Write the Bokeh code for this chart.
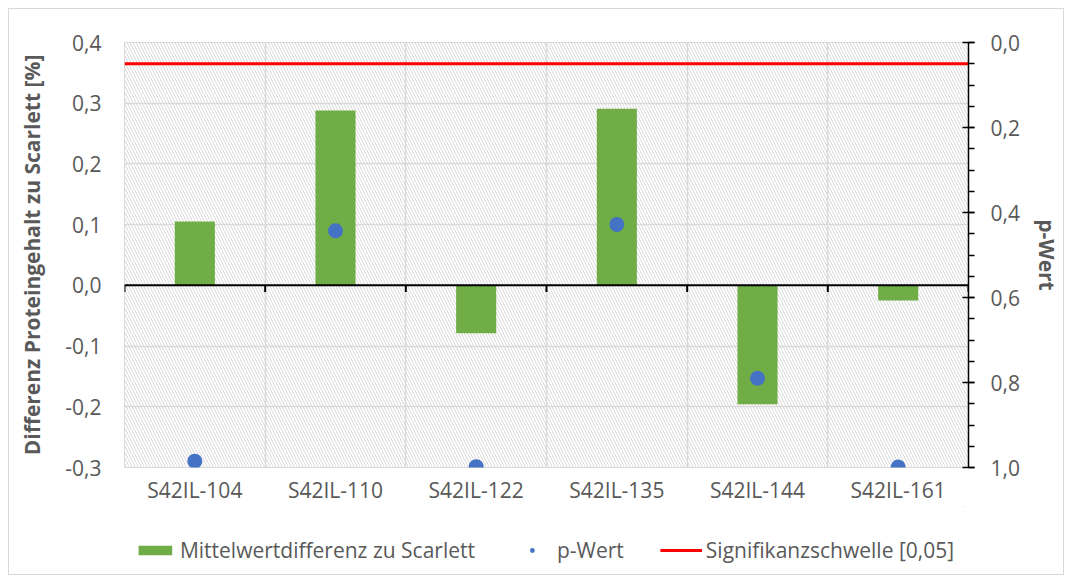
from bokeh.plotting import figure
from bokeh.layouts import column
from bokeh.models import (Range1d, LinearAxis, FixedTicker, CustomJSTickFormatter,
                          BoxAnnotation, Span, Legend, LegendItem, ColumnDataSource)
from bokeh.embed import file_html
from bokeh.resources import INLINE

# ---- data ----
categories = ["S42IL-104", "S42IL-110", "S42IL-122", "S42IL-135", "S42IL-144", "S42IL-161"]
mean_diff = [0.105, 0.288, -0.079, 0.291, -0.196, -0.025]
p_values = [0.985, 0.443, 0.998, 0.428, 0.790, 0.999]
threshold = 0.05
left_ticks = [-0.3, -0.2, -0.1, 0.0, 0.1, 0.2, 0.3, 0.4]
right_ticks = [0.0, 0.2, 0.4, 0.6, 0.8, 1.0]
right_minor = [0.0, 0.05, 0.1, 0.15, 0.2, 0.25, 0.3, 0.35, 0.4, 0.45, 0.5,
               0.55, 0.6, 0.65, 0.7, 0.75, 0.8, 0.85, 0.9, 0.95, 1.0]
label_bar = "Mittelwertdifferenz zu Scarlett"
label_p = "p-Wert"
label_thr = "Signifikanzschwelle [0,05]"
left_title = "Differenz Proteingehalt zu Scarlett [%]"
right_title = "p-Wert"

FONT = "Open Sans"
TXT = "#595959"
GRID = "#d9d9d9"
GREEN = "#70ad47"
BLUE = "#4472c4"
RED = "#ff0000"

n = len(categories)
x_centers = [i + 0.5 for i in range(n)]
boundaries = list(range(n + 1))

src = ColumnDataSource(dict(x=x_centers, diff=mean_diff, p=p_values))
thr_src = ColumnDataSource(dict(x=[0, n], y=[threshold, threshold]))

p = figure(frame_width=844, frame_height=425, x_range=Range1d(0, n), y_range=Range1d(-0.3, 0.4),
           output_backend="svg", toolbar_location=None,
           min_border_left=115, min_border_right=91, min_border_top=33, min_border_bottom=36)
p.extra_y_ranges = {"p": Range1d(1.0, 0.0)}
p.outline_line_color = GRID
p.background_fill_color = "white"
p.border_fill_color = "white"

# hatched plot area
hatch = BoxAnnotation(fill_alpha=0, line_alpha=0, hatch_pattern="\\", hatch_color="#d9d9d9",
                      hatch_scale=6, hatch_weight=1, level="image")
p.add_layout(hatch)

# grids
p.xgrid.ticker = FixedTicker(ticks=boundaries)
p.xgrid.grid_line_color = GRID
p.xgrid.grid_line_width = 1.5
p.ygrid.grid_line_color = GRID
p.ygrid.grid_line_width = 1.5

fmt = CustomJSTickFormatter(code="return tick.toFixed(1).replace('.', ',');")

# left axis
p.yaxis.ticker = FixedTicker(ticks=left_ticks)
p.yaxis.formatter = fmt
p.yaxis.axis_line_color = None
p.yaxis.major_tick_line_color = None
p.yaxis.minor_tick_line_color = None
p.yaxis.major_tick_out = 0
p.yaxis.minor_tick_out = 0
p.yaxis.major_label_standoff = 23
p.yaxis.axis_label = left_title
p.yaxis.axis_label_standoff = 16
p.yaxis.axis_label_text_font = FONT
p.yaxis.axis_label_text_font_style = "bold"
p.yaxis.axis_label_text_font_size = "21px"
p.yaxis.axis_label_text_color = TXT
p.yaxis.major_label_text_font = FONT
p.yaxis.major_label_text_font_size = "21px"
p.yaxis.major_label_text_color = TXT

# bottom axis (category labels)
p.xaxis.ticker = FixedTicker(ticks=x_centers)
p.xaxis.formatter = CustomJSTickFormatter(args=dict(cats=categories),
                                          code="return cats[Math.floor(tick)];")
p.xaxis.axis_line_color = None
p.xaxis.major_tick_line_color = None
p.xaxis.minor_tick_line_color = None
p.xaxis.major_tick_out = 0
p.xaxis.minor_tick_out = 0
p.xaxis.major_label_standoff = 8
p.xaxis.major_label_text_font = FONT
p.xaxis.major_label_text_font_size = "21px"
p.xaxis.major_label_text_color = TXT

# right axis
rax = LinearAxis(y_range_name="p", ticker=FixedTicker(ticks=right_ticks, minor_ticks=right_minor),
                 formatter=fmt)
rax.axis_line_color = "black"
rax.axis_line_width = 1.5
rax.major_tick_line_color = "black"
rax.major_tick_line_width = 1.5
rax.major_tick_in = 6
rax.major_tick_out = 6
rax.minor_tick_line_color = "black"
rax.minor_tick_line_width = 1.5
rax.minor_tick_in = 0
rax.minor_tick_out = 6
rax.major_label_standoff = 16
rax.major_label_text_font = FONT
rax.major_label_text_font_size = "21px"
rax.major_label_text_color = TXT
rax.axis_label = right_title
rax.axis_label_standoff = 10
rax.axis_label_text_font = FONT
rax.axis_label_text_font_style = "bold"
rax.axis_label_text_font_size = "21px"
rax.axis_label_text_color = TXT
p.add_layout(rax, "right")

# bars
p.vbar(x="x", top="diff", bottom=0, width=0.285, source=src, fill_color=GREEN, line_color=None)

# zero line with category boundary ticks
p.add_layout(Span(location=0, dimension="width", line_color="black", line_width=2))
p.segment(x0=boundaries, y0=[0] * len(boundaries), x1=boundaries, y1=[-0.011] * len(boundaries),
          line_color="black", line_width=2)

# threshold line
p.line(x="x", y="y", source=thr_src, y_range_name="p", line_color=RED, line_width=3)

# p-values
p.scatter(x="x", y="p", source=src, y_range_name="p", size=15, fill_color=BLUE, line_color=None)

# ---- legend strip (separate figure below the chart; its ranges show no data) ----
lg = figure(width=1050, height=68, x_range=Range1d(-20, -19), y_range=Range1d(-20, -19),
            output_backend="svg", toolbar_location=None,
            x_axis_location=None, y_axis_location=None,
            min_border=0, min_border_left=0, min_border_right=0, min_border_top=0, min_border_bottom=0)
lg.grid.visible = False
lg.outline_line_color = None
lg.background_fill_color = "white"
lg.border_fill_color = "white"
r_bar = lg.vbar(x="x", top="diff", bottom=0, width=0.285, source=src, fill_color=GREEN, line_color=None)
r_pts = lg.scatter(x="x", y="p", source=src, size=15, fill_color=BLUE, line_color=None)
r_thr = lg.line(x="x", y="y", source=thr_src, line_color=RED, line_width=3)

legend = Legend(items=[LegendItem(label=label_bar, renderers=[r_bar], index=0),
                       LegendItem(label=label_p, renderers=[r_pts], index=0),
                       LegendItem(label=label_thr, renderers=[r_thr])],
                orientation="horizontal", location="bottom_center",
                border_line_alpha=0, background_fill_alpha=0,
                label_text_font=FONT, label_text_font_size="21px", label_text_color=TXT,
                glyph_width=42, glyph_height=12, spacing=36, label_standoff=4,
                margin=8, padding=2)
lg.add_layout(legend, "center")

layout = column(p, lg, spacing=0)
layout.margin = (8, 0, 0, 8)
layout.styles = {"border": "1px solid #d9d9d9"}

open("out.html", "w").write(file_html(layout, INLINE))
